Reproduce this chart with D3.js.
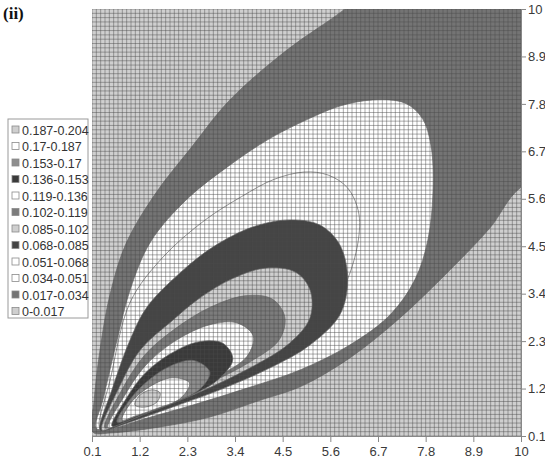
<!DOCTYPE html>
<html>
<head>
<meta charset="utf-8">
<script src="https://cdn.jsdelivr.net/npm/d3@7"></script>
<style>
  body { margin: 0; background: #fff; }
  text { font-family: "Liberation Sans", Arial, sans-serif; }
</style>
</head>
<body>
<script>
// axis ticks
const xTicks = [0.1, 1.2, 2.3, 3.4, 4.5, 5.6, 6.7, 7.8, 8.9, 10];
const yTicks = [0.1, 1.2, 2.3, 3.4, 4.5, 5.6, 6.7, 7.8, 8.9, 10];

// bands, low to high
const bandLabels = ["0-0.017", "0.017-0.034", "0.034-0.051", "0.051-0.068", "0.068-0.085", "0.085-0.102",
    "0.102-0.119", "0.119-0.136", "0.136-0.153", "0.153-0.17", "0.17-0.187", "0.187-0.204"];
const bandColors = ["#cfcfcf", "#747474", "#ffffff", "#ffffff", "#454545", "#cfcfcf",
    "#7c7c7c", "#ffffff", "#3a3a3a", "#8e8e8e", "#ffffff", "#cfcfcf"];

// contour boundaries (x, y), one per level 0.017 .. 0.187
const c017 = [[0.12,0.19],[0.15,0.93],[0.30,2.20],[0.52,3.40],[0.88,4.55],[1.55,5.70],[2.40,6.80],[3.28,7.89],
    [4.60,9.05],[5.94,10.0],[7.0,10.9],[11.5,11.5],[11.5,6.5],[10,5.87],[9.28,4.92],[8.36,3.95],[7.21,2.84],
    [6.05,1.91],[4.9,1.24],[3.98,0.93],[2.82,0.54],[1.67,0.31],[0.52,0.17]];
const c034 = [[0.19,0.29],[0.35,0.93],[0.68,2.33],[0.98,3.49],[1.45,4.60],[2.30,5.60],[3.28,6.38],[4.14,6.96],
    [4.9,7.36],[5.82,7.75],[6.58,7.89],[7.32,7.82],[7.72,7.47],[7.92,6.85],[7.97,5.80],[7.85,4.64],[7.55,3.72],
    [6.98,2.91],[6.05,2.21],[4.9,1.63],[3.68,1.21],[2.43,0.82],[1.28,0.49],[0.40,0.24]];
const c051 = [[0.28,0.29],[0.52,1.40],[0.98,3.20],[1.74,4.25],[2.70,5.10],[3.55,5.65],[4.30,6.05],[5.0,6.22],
    [5.55,6.15],[6.0,5.85],[6.25,5.30],[6.24,4.60],[5.94,3.60],[5.36,2.67],[4.44,1.98],[3.28,1.35],[2.13,0.89],
    [0.98,0.47],[0.45,0.26]];
const c068 = [[0.28,0.24],[0.56,1.17],[0.98,2.33],[1.37,3.09],[2.13,3.88],[2.89,4.48],[3.82,4.95],[4.67,5.11],
    [5.36,4.99],[5.82,4.53],[6.0,3.72],[5.82,2.91],[5.13,2.21],[4.21,1.68],[3.05,1.17],[1.90,0.75],[0.86,0.38],
    [0.38,0.22]];
const c085 = [[0.33,0.24],[0.70,1.17],[1.21,2.09],[1.97,2.79],[2.52,3.25],[3.28,3.72],[4.09,3.99],[4.79,3.90],
    [5.13,3.49],[5.13,2.84],[4.67,2.26],[3.75,1.68],[2.59,1.12],[1.44,0.66],[0.63,0.33]];
const c102 = [[0.40,0.29],[0.79,1.17],[1.32,1.98],[2.01,2.58],[2.82,3.08],[3.63,3.35],[4.25,3.28],[4.55,2.86],
    [4.42,2.33],[3.75,1.82],[2.71,1.28],[1.67,0.82],[0.75,0.42]];
const c119 = [[0.47,0.29],[0.86,1.05],[1.32,1.72],[2.01,2.30],[2.82,2.68],[3.45,2.72],[3.82,2.42],[3.68,1.95],
    [2.94,1.45],[2.01,1.00],[1.09,0.59]];
const c136 = [[0.56,0.33],[0.91,1.0],[1.32,1.55],[1.90,2.0],[2.55,2.28],[3.12,2.25],[3.35,1.88],[3.0,1.40],
    [2.25,0.98],[1.44,0.66],[0.86,0.42]];
const c153 = [[0.68,0.42],[0.98,0.95],[1.39,1.38],[1.90,1.72],[2.45,1.85],[2.82,1.58],[2.58,1.18],[1.90,0.84],
    [1.21,0.59]];
const c170 = [[0.79,0.47],[1.02,0.90],[1.44,1.25],[1.95,1.45],[2.35,1.33],[2.15,0.98],[1.55,0.72],[1.09,0.56]];
const c187 = [[1.09,0.82],[1.21,1.05],[1.48,1.17],[1.67,1.10],[1.60,0.89],[1.32,0.77]];
const contours = [c017, c034, c051, c068, c085, c102, c119, c136, c153, c170, c187];

const width = 545, height = 465;
const plot = {left: 92, right: 521, top: 9, bottom: 436};

const svg = d3.select("body")
    .append("svg")
    .attr("width", width)
    .attr("height", height);

const x = d3.scaleLinear().domain([0.1, 10]).range([plot.left, plot.right]);
const y = d3.scaleLinear().domain([0.1, 10]).range([plot.bottom, plot.top]);

svg.append("clipPath")
    .attr("id", "clip")
    .append("rect")
    .attr("x", plot.left)
    .attr("y", plot.top)
    .attr("width", plot.right - plot.left)
    .attr("height", plot.bottom - plot.top);

const g = svg.append("g").attr("clip-path", "url(#clip)");

// lowest band fills the whole area
g.append("rect")
    .attr("x", plot.left)
    .attr("y", plot.top)
    .attr("width", plot.right - plot.left)
    .attr("height", plot.bottom - plot.top)
    .attr("fill", bandColors[0]);

const line = d3.line()
    .x(d => x(d[0]))
    .y(d => y(d[1]))
    .curve(d3.curveCatmullRomClosed.alpha(0.5));

g.selectAll("path.band")
    .data(contours)
    .enter()
    .append("path")
    .attr("class", "band")
    .attr("d", d => line(d))
    .attr("fill", (d, i) => bandColors[i + 1])
    .attr("stroke", "#6a6a6a")
    .attr("stroke-width", 0.7);

// category gridlines
const gridVals = d3.range(1, 101).map(i => i / 10);
g.selectAll("line.gx")
    .data(gridVals)
    .enter().append("line")
    .attr("x1", d => x(d)).attr("x2", d => x(d))
    .attr("y1", plot.top).attr("y2", plot.bottom)
    .attr("stroke", "#4a4a4a")
    .attr("stroke-opacity", 0.65)
    .attr("stroke-width", 0.7);
g.selectAll("line.gy")
    .data(gridVals)
    .enter().append("line")
    .attr("y1", d => y(d)).attr("y2", d => y(d))
    .attr("x1", plot.left).attr("x2", plot.right)
    .attr("stroke", "#4a4a4a")
    .attr("stroke-opacity", 0.65)
    .attr("stroke-width", 0.7);

// axes
const fmt = d => String(d);
const xAxis = svg.append("g")
    .attr("transform", `translate(0, ${plot.bottom})`)
    .call(d3.axisBottom(x).tickValues(xTicks).tickFormat(fmt).tickSize(6).tickPadding(5));
const yAxis = svg.append("g")
    .attr("transform", `translate(${plot.right}, 0)`)
    .call(d3.axisRight(y).tickValues(yTicks).tickFormat(fmt).tickSize(5).tickPadding(2));
[xAxis, yAxis].forEach(a => {
    a.selectAll("path").attr("stroke", "#888");
    a.selectAll("line").attr("stroke", "#888");
    a.selectAll("text")
        .style("font-size", "13px")
        .style("font-family", "'Liberation Sans', Arial, sans-serif")
        .attr("fill", "#3a3a3a");
});

// legend
const legend = svg.append("g");
legend.append("rect")
    .attr("x", 8).attr("y", 119)
    .attr("width", 80).attr("height", 199)
    .attr("fill", "#fff")
    .attr("stroke", "#9a9a9a");
const items = bandLabels.map((l, i) => ({label: l, color: bandColors[i]})).reverse();
const entry = legend.selectAll("g.item")
    .data(items)
    .enter().append("g")
    .attr("transform", (d, i) => `translate(12, ${130 + i * 16.5})`);
entry.append("rect")
    .attr("x", 0).attr("y", -4)
    .attr("width", 7).attr("height", 7)
    .attr("fill", d => d.color)
    .attr("stroke", "#8a8a8a")
    .attr("stroke-width", 0.8);
entry.append("text")
    .attr("x", 10).attr("y", 4.5)
    .style("font-size", "12.5px")
    .attr("fill", "#333")
    .text(d => d.label);

// panel label
svg.append("text")
    .attr("x", 3).attr("y", 19)
    .style("font-family", "'Liberation Serif', 'Times New Roman', serif")
    .style("font-weight", "bold")
    .style("font-size", "17px")
    .attr("fill", "#111")
    .text("(ii)");
</script>
</body>
</html>
